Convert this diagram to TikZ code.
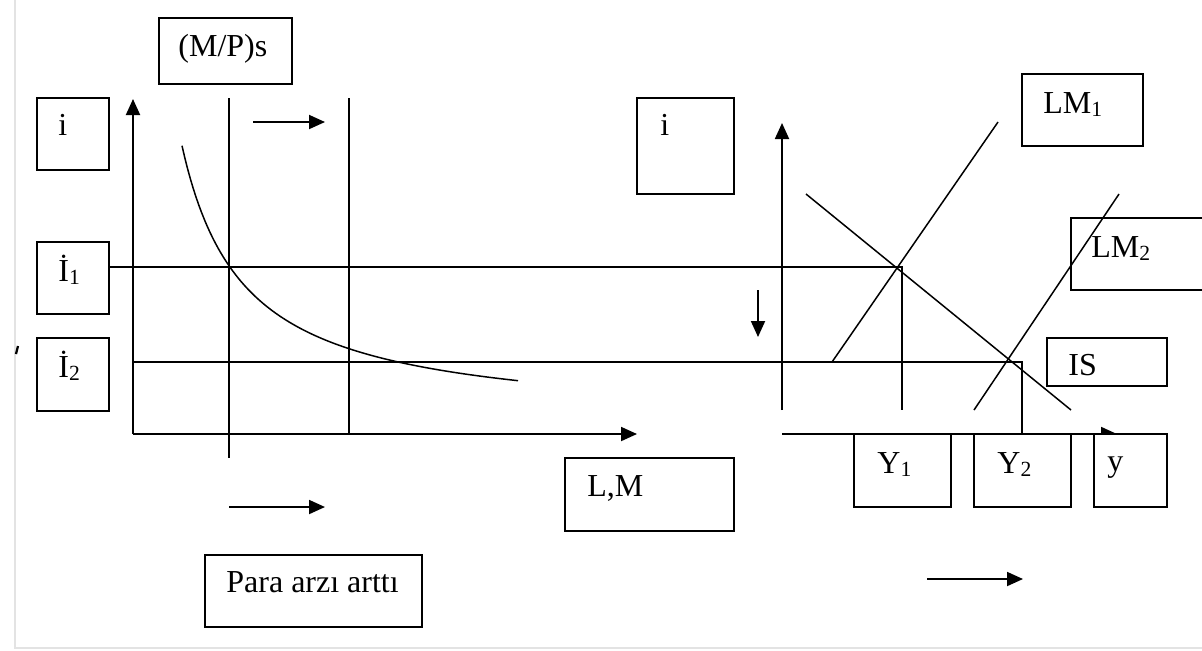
\documentclass[tikz,border=0pt]{standalone}
\usepackage{fontspec}
\setmainfont{Liberation Serif}
\usetikzlibrary{arrows.meta,fit}
\newcommand{\dsub}[1]{\raisebox{-0.12em}{\fontsize{10.8}{10.8}\selectfont #1}}
\begin{document}
\begin{tikzpicture}[x=0.5pt,y=-0.5pt,
  ln/.style={line width=0.95pt},
  arr/.style={line width=0.95pt,-{Triangle[length=8pt,width=7pt]}},
  box/.style={draw,line width=0.95pt,fill=white,inner sep=0pt},
  obox/.style={draw,line width=0.95pt,inner sep=0pt},
  lbl/.style={anchor=base west,inner sep=0pt,font=\fontsize{16}{19}\selectfont}]
\useasboundingbox (0,0) rectangle (1202,650);
% page edge artefacts
\coordinate (e1) at (15,0); \coordinate (e2) at (15,648); \coordinate (e3) at (1202,648);
\draw[gray!22,line width=1pt] (e1) -- (e2) -- (e3);
\coordinate (t1) at (18,346); \coordinate (t2) at (16,354);
\draw[line width=1.1pt] (t1) -- (t2);
% LM2 box (line crosses it)
\node[obox,fit={(1071,218) (1210,290)}] (bLM2) {};
% left panel
\coordinate (Lo) at (133,434); \coordinate (Ltop) at (133,99); \coordinate (Lright) at (637,434);
\draw[arr] (Lo) -- (Ltop);
\draw[arr] (Lo) -- (Lright);
\coordinate (m1a) at (229,98); \coordinate (m1b) at (229,458);
\coordinate (m2a) at (349,98); \coordinate (m2b) at (349,434);
\draw[ln] (m1a) -- (m1b);
\draw[ln] (m2a) -- (m2b);
\coordinate (ta1) at (253,122); \coordinate (ta2) at (325,122);
\draw[arr] (ta1) -- (ta2);
\coordinate (ba1) at (229,507); \coordinate (ba2) at (325,507);
\draw[arr] (ba1) -- (ba2);
\draw[line width=0.75pt] plot[domain=182:518,samples=120] (\x,{424-172.51/((\x-120)/100)});
% interest-rate lines
\coordinate (i1a) at (109,267); \coordinate (i1b) at (902,267); \coordinate (i1c) at (902,410);
\draw[ln] (i1a) -- (i1b) -- (i1c);
\coordinate (i2a) at (133,362); \coordinate (i2b) at (1022,362); \coordinate (i2c) at (1022,434);
\draw[ln] (i2a) -- (i2b) -- (i2c);
% right panel
\coordinate (Ro) at (782,410); \coordinate (Rtop) at (782,123);
\draw[arr] (Ro) -- (Rtop);
\coordinate (Rh) at (782,434); \coordinate (Rright) at (1117,434);
\draw[arr] (Rh) -- (Rright);
\coordinate (da1) at (758,290); \coordinate (da2) at (758,337);
\draw[arr] (da1) -- (da2);
\coordinate (lm1a) at (832,362); \coordinate (lm1b) at (998,122);
\draw[line width=0.75pt] (lm1a) -- (lm1b);
\coordinate (isa) at (806,194); \coordinate (isb) at (1071,410);
\draw[line width=0.75pt] (isa) -- (isb);
\coordinate (lm2a) at (974,410); \coordinate (lm2b) at (1119,194);
\draw[line width=0.75pt] (lm2a) -- (lm2b);
\coordinate (ra1) at (927,579); \coordinate (ra2) at (1023,579);
\draw[arr] (ra1) -- (ra2);
% boxes
\node[box,fit={(159,18) (292,84)}] (bMP) {};
\node[box,fit={(37,98) (109,170)}] (bi) {};
\node[box,fit={(37,242) (109,314)}] (bI1) {};
\node[box,fit={(37,338) (109,411)}] (bI2) {};
\node[box,fit={(637,98) (734,194)}] (biR) {};
\node[box,fit={(565,458) (734,531)}] (bLM) {};
\node[box,fit={(205,555) (422,627)}] (bPara) {};
\node[box,fit={(1022,74) (1143,146)}] (bLM1) {};
\node[box,fit={(1047,338) (1167,386)}] (bIS) {};
\node[box,fit={(854,434) (951,507)}] (bY1) {};
\node[box,fit={(974,434) (1071,507)}] (bY2) {};
\node[box,fit={(1094,434) (1167,507)}] (by) {};
% labels
\node[lbl] (tMP) at (178,56) {(M/P)s};
\node[lbl] (ti) at (58,135) {i};
\node[lbl] (tI1) at (58,281) {İ\dsub{1}};
\node[lbl] (tI2) at (58,377) {İ\dsub{2}};
\node[lbl] (tiR) at (660,135) {i};
\node[lbl] (tLM) at (587,496) {L,M};
\node[lbl] (tPara) at (226,592) {Para arzı arttı};
\node[lbl] (tLM1) at (1043,113) {LM\dsub{1}};
\node[lbl] (tLM2) at (1091,257) {LM\dsub{2}};
\node[lbl] (tIS) at (1068,375) {IS};
\node[lbl] (tY1) at (877,473) {Y\dsub{1}};
\node[lbl] (tY2) at (997,473) {Y\dsub{2}};
\node[lbl] (ty) at (1107,471) {y};
\end{tikzpicture}
\end{document}
